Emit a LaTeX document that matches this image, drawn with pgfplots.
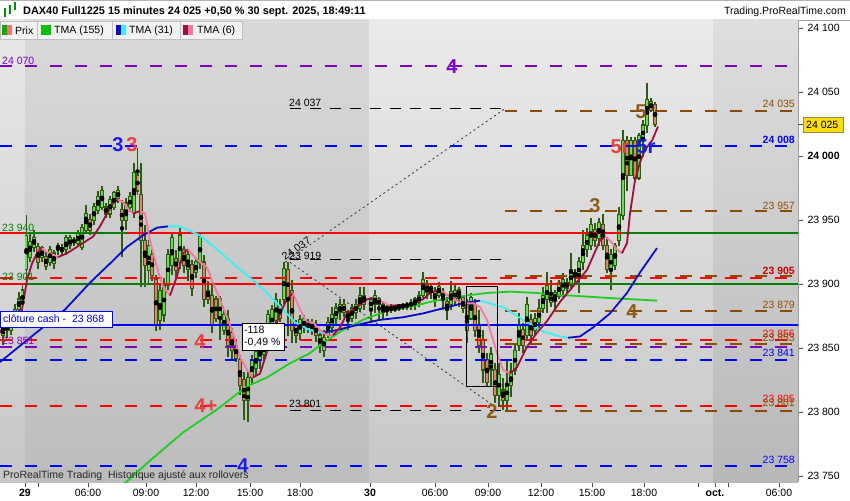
\documentclass[border=0pt]{standalone}
\usepackage{fontspec}
\setmainfont{Liberation Sans}
\usepackage{pgfplots}
\usepackage{pgfplotstable}
\pgfplotsset{compat=1.18}

\definecolor{lvpurple}{RGB}{128,0,192}
\definecolor{lvbrown}{RGB}{140,76,0}
\definecolor{lvblue}{RGB}{0,0,255}
\definecolor{lvred}{RGB}{255,0,0}
\definecolor{lvgreen}{RGB}{0,128,0}
\definecolor{wick}{RGB}{45,90,15}
\definecolor{upfill}{RGB}{105,220,95}
\definecolor{dnfill}{RGB}{235,125,115}
\definecolor{tmagreen}{RGB}{30,205,30}
\definecolor{tmablue}{RGB}{10,10,200}
\definecolor{tmacyan}{RGB}{60,240,240}
\definecolor{tmadark}{RGB}{155,15,60}
\definecolor{tmapink}{RGB}{250,120,160}
\definecolor{annred}{RGB}{232,64,64}
\definecolor{annbrown}{RGB}{140,90,20}
\definecolor{annblue}{RGB}{25,25,235}

\newcommand{\fs}{\fontsize{10.5}{12}\selectfont}
\newcommand{\fbig}{\fontsize{20}{22}\selectfont\bfseries}

% x = bar position (px of the 850 px chart), o h l c = prices
\pgfplotstableread{
x o h l c
3 23860 23873 23852 23868
7 23868 23873 23858 23864
11 23864 23878 23860 23873
15 23873 23884 23870 23880
19 23880 23894 23876 23888
22.5 23884 23899 23872 23895
26.5 23912 23954 23899 23938
30 23921 23940 23917 23933
34 23929 23942 23925 23936
38 23929 23932 23912 23917
42 23921 23930 23917 23928
46 23921 23925 23911 23914
50 23917 23930 23914 23927
54 23916 23927 23912 23924
58 23927 23932 23923 23930
62 23928 23931 23923 23926
66 23927 23938 23923 23936
70 23930 23938 23927 23936
74 23933 23937 23930 23934
78 23932 23942 23929 23940
82 23929 23947 23927 23944
86 23942 23962 23940 23955
90 23950 23955 23938 23942
94 23950 23963 23946 23960
98 23958 23973 23955 23968
102 23960 23977 23958 23973
106 23960 23963 23952 23955
110 23955 23969 23952 23966
114 23960 23973 23958 23971
118 23967 23977 23963 23973
122 23958 23966 23921 23950
126 23950 23967 23942 23963
130 23960 23972 23956 23968
134 23955 23995 23952 23987
137.5 23985 24006 23970 23973
141 23970 23995 23898 23934
145 23934 23946 23898 23915
148.5 23911 23934 23899 23930
152 23923 23928 23902 23907
156 23903 23907 23863 23868
160 23872 23899 23864 23895
164 23876 23905 23870 23899
168 23899 23927 23895 23923
172 23915 23941 23907 23936
176 23920 23927 23905 23911
180 23917 23944 23912 23938
184 23927 23930 23909 23915
188 23912 23927 23902 23923
192 23915 23919 23891 23897
196 23909 23920 23905 23917
200 23917 23941 23912 23937
204 23917 23923 23882 23888
208 23895 23902 23884 23888
212 23891 23899 23862 23868
216 23888 23891 23870 23873
220 23873 23891 23856 23888
224 23864 23880 23860 23876
228 23873 23880 23843 23852
232 23862 23866 23841 23848
236 23852 23856 23839 23842
240 23841 23845 23813 23821
244 23825 23831 23794 23809
248 23809 23831 23792 23827
252 23827 23845 23821 23841
256 23834 23850 23829 23847
260 23841 23856 23834 23852
264 23845 23858 23839 23854
268 23852 23880 23848 23876
272 23864 23884 23860 23880
276 23872 23893 23866 23888
280 23884 23888 23870 23873
284 23888 23917 23884 23912
288 23911 23917 23859 23888
292 23895 23903 23854 23864
296 23868 23872 23854 23860
300 23862 23876 23856 23872
304 23866 23876 23862 23873
308 23870 23873 23862 23866
312 23864 23873 23860 23870
316 23868 23872 23855 23860
320 23852 23864 23846 23860
324 23848 23864 23843 23858
328 23860 23874 23858 23870
332 23866 23882 23862 23876
336 23873 23885 23868 23881
340 23878 23888 23872 23884
344 23884 23888 23874 23878
348 23873 23880 23864 23878
352 23873 23884 23870 23881
356 23878 23888 23873 23884
360 23881 23898 23878 23891
364 23891 23898 23880 23884
371 23881 23890 23870 23888
375 23884 23895 23877 23891
379 23888 23890 23872 23884
383 23884 23885 23873 23880
387 23880 23884 23875 23882
391 23880 23884 23877 23882
395 23880 23884 23878 23883
399 23881 23884 23879 23884
403 23882 23885 23880 23884
407 23883 23886 23880 23884
411 23883 23888 23880 23885
415 23884 23890 23880 23888
419 23886 23895 23882 23891
423 23891 23909 23889 23903
427 23899 23903 23888 23894
431 23895 23901 23888 23898
435 23894 23898 23882 23888
439 23891 23902 23889 23898
443 23894 23897 23880 23888
447 23886 23890 23872 23880
451 23884 23902 23880 23894
455 23895 23899 23884 23888
459 23891 23898 23882 23895
463 23889 23891 23877 23881
467 23884 23888 23854 23864
471 23873 23893 23872 23889
475 23884 23888 23859 23864
479 23868 23880 23846 23852
483 23856 23864 23823 23833
487 23841 23846 23820 23823
491 23833 23851 23820 23845
495 23833 23838 23807 23813
499 23813 23838 23804 23829
503 23817 23827 23802 23809
507 23809 23841 23802 23821
511 23821 23838 23812 23831
515 23833 23852 23829 23848
519 23852 23877 23848 23868
523 23864 23870 23846 23852
527 23860 23890 23856 23884
531 23872 23877 23854 23860
535 23864 23877 23859 23873
539 23870 23888 23864 23881
543 23881 23898 23877 23891
547 23888 23909 23877 23899
551 23891 23903 23882 23886
555 23888 23895 23880 23893
559 23891 23903 23888 23901
563 23895 23909 23890 23903
567 23901 23905 23893 23897
571 23899 23924 23895 23911
575 23907 23912 23901 23909
579 23905 23921 23893 23917
583 23917 23942 23911 23930
587 23927 23944 23921 23938
591 23930 23952 23927 23946
595 23942 23948 23929 23934
599 23936 23952 23930 23948
603 23946 23955 23927 23930
607 23930 23937 23909 23912
611 23911 23927 23895 23923
615 23915 23932 23911 23930
619 23934 23960 23930 23954
623 23954 24020 23950 24012
627 24012 24016 23973 23985
631 23985 24015 23984 24012
635 24012 24015 23981 23983
639 23983 24018 23981 24016
643 24012 24028 23999 24024
647 24024 24057 24018 24044
651 24042 24045 24034 24036
655 24040 24042 24023 24025
}\candles

\tikzset{
  lvl/.style={line width=2pt, dash pattern=on 12pt off 13pt},
  lvs/.style={line width=2pt},
  lvk/.style={line width=0.9pt, black, dash pattern=on 11pt off 9pt},
  ma/.style={line width=1.8pt},
}

\begin{document}
\begin{tikzpicture}
\useasboundingbox (0,0) rectangle (850pt,-500pt);
\fill[white] (0,0) rectangle (850pt,-500pt);
\draw[black!30] (0,-0.4pt) -- (850pt,-0.4pt);
\draw[black!35] (0,-20pt) -- (850pt,-20pt);

\begin{axis}[
  at={(0pt,-20pt)}, anchor=north west,
  width=798pt, height=462pt, scale only axis,
  xmin=0, xmax=798, ymin=23745.3, ymax=24106.25,
  scaled ticks=false,
  axis x line*=bottom, axis y line*=right,
  axis line style={draw=black!40, line width=0.8pt},
  xtick={25,88,146,196,250,300,370,435,488,541,592,644,715,779},
  xticklabels={\textbf{29},06:00,09:00,12:00,15:00,18:00,\textbf{30},06:00,09:00,12:00,15:00,18:00,\textbf{oct.},06:00},
  extra x ticks={38,698,728}, extra x tick labels={},
  ytick={23750,23800,23850,23900,23950,24000,24050,24100},
  yticklabels={23 750,23 800,23 850,23 900,23 950,\textbf{24 000},24 050,24 100},
  tick align=outside, major tick length=5pt,
  tick style={black!70, line width=0.6pt},
  ticklabel style={font=\fs, text=black},
  xticklabel style={yshift=1pt},
  yticklabel style={xshift=1pt},
]
% background bands
\shade[top color=black!9, bottom color=black!22] (axis cs:0,24106.25) rectangle (axis cs:25,23745.3);
\shade[top color=black!15, bottom color=black!26] (axis cs:25,24106.25) rectangle (axis cs:369,23745.3);
\shade[top color=black!8, bottom color=black!22] (axis cs:369,24106.25) rectangle (axis cs:713,23745.3);
\shade[top color=black!13, bottom color=black!28] (axis cs:713,24106.25) rectangle (axis cs:798,23745.3);

% candles: wicks, body outline, body fill
\addplot[only marks, mark=none, error bars/.cd, y dir=both, y explicit, error mark=none,
  error bar style={line width=1.1pt, draw=wick}]
  table[x=x, y expr={(\thisrow{h}+\thisrow{l})/2}, y error expr={(\thisrow{h}-\thisrow{l})/2}] {\candles};
\addplot[only marks, mark=none, error bars/.cd, y dir=both, y explicit, error mark=none,
  error bar style={line width=3.8pt, draw=wick}]
  table[x=x, y expr={(\thisrow{o}+\thisrow{c})/2}, y error expr={abs(\thisrow{o}-\thisrow{c})/2+0.7}] {\candles};
\addplot[only marks, mark=none, unbounded coords=discard, error bars/.cd, y dir=both, y explicit, error mark=none,
  error bar style={line width=2.0pt, draw=upfill}]
  table[x=x, y expr={\thisrow{c}>=\thisrow{o} ? (\thisrow{o}+\thisrow{c})/2 : nan}, y error expr={max(abs(\thisrow{o}-\thisrow{c})/2-0.2,0)}] {\candles};
\addplot[only marks, mark=none, unbounded coords=discard, error bars/.cd, y dir=both, y explicit, error mark=none,
  error bar style={line width=2.0pt, draw=dnfill}]
  table[x=x, y expr={\thisrow{c}<\thisrow{o} ? (\thisrow{o}+\thisrow{c})/2 : nan}, y error expr={max(abs(\thisrow{o}-\thisrow{c})/2-0.2,0)}] {\candles};

% levels
\addplot[lvl, lvpurple] coordinates {(0,24070) (798,24070)};
\addplot[lvk] coordinates {(290,24037) (505,24037)};
\addplot[lvl, lvbrown] coordinates {(505,24035) (798,24035)};
\addplot[lvl, lvblue] coordinates {(0,24008) (798,24008)};
\addplot[lvl, lvbrown] coordinates {(505,23957) (798,23957)};
\addplot[lvs, lvred] coordinates {(0,23940) (622,23940)};
\addplot[lvs, lvgreen] coordinates {(25,23940) (127,23940)};
\addplot[lvs, lvgreen] coordinates {(622,23940) (798,23940)};
\addplot[lvk] coordinates {(290,23919) (505,23919)};
\addplot[lvl, lvbrown] coordinates {(505,23906) (798,23906)};
\addplot[lvl, lvred] coordinates {(0,23905) (798,23905)};
\addplot[lvs, lvred] coordinates {(0,23900) (570,23900)};
\addplot[lvs, lvgreen] coordinates {(25,23900) (153,23900)};
\addplot[lvs, lvgreen] coordinates {(570,23900) (798,23900)};
\addplot[lvl, lvbrown] coordinates {(505,23879) (798,23879)};
\addplot[lvs, lvblue] coordinates {(0,23868) (798,23868)};
\addplot[lvl, lvred] coordinates {(0,23856) (798,23856)};
\addplot[lvl, lvbrown] coordinates {(505,23853) (798,23853)};
\addplot[lvl, lvpurple] coordinates {(0,23851) (798,23851)};
\addplot[lvl, lvblue] coordinates {(0,23841) (798,23841)};
\addplot[lvl, lvred] coordinates {(0,23805) (798,23805)};
\addplot[lvk] coordinates {(290,23801) (505,23801)};
\addplot[lvl, lvbrown] coordinates {(505,23801) (798,23801)};
\addplot[lvl, lvblue] coordinates {(0,23758) (798,23758)};

% TMA(155)
\addplot[ma, tmagreen] coordinates {(120,23741) (150,23762) (183,23784) (217,23802) (247,23820) (267,23827) (290,23838) (310,23846) (323,23854) (343,23864) (363,23872) (390,23880) (410,23882) (430,23886) (450,23889) (467,23891) (487,23893) (510,23894) (537,23893) (557,23891) (570,23891) (610,23889) (657,23887)};
% TMA(31)
\addplot[ma, tmablue] coordinates {(0,23839) (30,23858) (65,23880) (90,23901) (110,23916) (127,23929) (143,23938) (157,23944) (168,23945)};
\addplot[ma, tmacyan] coordinates {(168,23945) (180,23945) (200,23938) (217,23927) (233,23916) (253,23903) (267,23893) (283,23880) (295,23870) (310,23864) (323,23862)};
\addplot[ma, tmablue] coordinates {(323,23862) (337,23864) (357,23868) (380,23872) (403,23874) (423,23877) (443,23881) (463,23885) (480,23887)};
\addplot[ma, tmacyan] coordinates {(480,23887) (503,23882) (523,23872) (543,23863) (560,23859) (568,23858)};
\addplot[ma, tmablue] coordinates {(568,23858) (580,23859) (593,23866) (610,23877) (627,23893) (640,23909) (657,23928)};
% TMA(6)
\addplot[ma, tmadark] coordinates {(0,23862) (7,23872) (22,23880) (27,23903) (32,23916) (37,23924) (42,23928)};
\addplot[ma, tmapink] coordinates {(42,23928) (47,23925) (58,23921)};
\addplot[ma, tmadark] coordinates {(58,23921) (67,23924) (83,23932) (93,23937) (100,23945) (107,23955) (113,23963) (118,23966)};
\addplot[ma, tmapink] coordinates {(118,23966) (123,23964) (128,23959) (133,23955)};
\addplot[ma, tmadark] coordinates {(133,23955) (140,23957)};
\addplot[ma, tmapink] coordinates {(140,23957) (145,23955) (150,23934) (157,23913) (163,23898) (170,23891)};
\addplot[ma, tmadark] coordinates {(170,23891) (177,23906) (183,23924) (188,23927)};
\addplot[ma, tmapink] coordinates {(188,23927) (197,23919) (207,23913) (213,23901) (220,23888) (227,23874) (233,23862) (240,23843) (247,23833) (253,23827)};
\addplot[ma, tmadark] coordinates {(253,23827) (260,23830) (270,23854) (280,23877) (287,23888) (293,23893)};
\addplot[ma, tmapink] coordinates {(293,23893) (300,23880) (307,23870) (313,23870) (320,23864) (327,23860) (333,23860)};
\addplot[ma, tmadark] coordinates {(333,23860) (340,23866) (347,23877) (357,23882) (367,23888) (373,23889)};
\addplot[ma, tmapink] coordinates {(373,23889) (383,23886) (390,23883)};
\addplot[ma, tmadark] coordinates {(390,23883) (410,23884) (423,23888) (430,23893) (437,23895)};
\addplot[ma, tmapink] coordinates {(437,23895) (443,23894) (453,23888) (463,23885) (473,23885) (480,23882) (487,23872) (497,23846) (503,23833) (510,23830)};
\addplot[ma, tmadark] coordinates {(510,23830) (517,23835) (527,23851) (537,23862) (547,23871) (560,23886) (573,23898) (587,23911) (600,23934) (605,23937)};
\addplot[ma, tmapink] coordinates {(605,23937) (610,23934) (617,23927) (622,23924)};
\addplot[ma, tmadark] coordinates {(622,23924) (627,23932) (630,23955) (635,23981) (640,23995) (645,24005) (652,24012) (658,24023)};

% drawing tools
\draw[black, line width=0.8pt] (axis cs:466,23898) rectangle (axis cs:497,23820);
\draw[black!80, line width=0.8pt, dash pattern=on 2pt off 3pt] (axis cs:285,23917) -- (axis cs:505,24037);
\draw[black!80, line width=0.8pt, dash pattern=on 2pt off 3pt] (axis cs:290,23917) -- (axis cs:497,23803);
\end{axis}

% header
\fill[green!55!black] (4pt,-8pt) rectangle (6pt,-17pt);
\fill[green!55!black] (9pt,-5pt) rectangle (11pt,-14pt);
\fill[green!55!black] (14pt,-2pt) rectangle (16pt,-10pt);
\node[anchor=west, font=\fontsize{10.9}{12}\selectfont\bfseries, inner sep=0pt] at (23pt,-12pt) {DAX40 Full1225 15 minutes 24 025 +0,50 \% 30 sept. 2025, 18:49:11};
\node[anchor=east, font=\fs, inner sep=0pt] at (846pt,-12pt) {Trading.ProRealTime.com};

% legend boxes
\foreach \a/\b in {0/37,37/112,112/180,180/242}
  \draw[black!25, fill=black!5] (\a pt,-21pt) rectangle (\b pt,-39pt);
\fill[green!70!black] (2pt,-25pt) rectangle (7pt,-35pt);
\fill[red!55] (7pt,-25pt) rectangle (12pt,-35pt);
\node[anchor=west, font=\fs, inner sep=0pt] at (15pt,-30.5pt) {Prix};
\fill[green!75!black] (41pt,-25pt) rectangle (51pt,-35pt);
\node[anchor=west, font=\fs, inner sep=0pt] at (54pt,-30.5pt) {TMA (155)};
\fill[tmablue] (116pt,-25pt) rectangle (121pt,-35pt);
\fill[tmacyan] (121pt,-25pt) rectangle (126pt,-35pt);
\node[anchor=west, font=\fs, inner sep=0pt] at (129pt,-30.5pt) {TMA (31)};
\fill[tmadark] (183pt,-25pt) rectangle (188pt,-35pt);
\fill[tmapink] (188pt,-25pt) rectangle (193pt,-35pt);
\node[anchor=west, font=\fs, inner sep=0pt] at (197pt,-30.5pt) {TMA (6)};

% right price tag
\draw[black!50!yellow, fill=yellow!80!orange] (803pt,-117pt) rectangle (843pt,-132pt);
\node[anchor=west, font=\fs, inner sep=0pt] at (806pt,-124.5pt) {24 025};
\draw[black!70, line width=0.6pt] (798pt,-124.5pt) -- (803pt,-124.5pt);

% level labels right
\begin{scope}[every node/.style={anchor=east, font=\fs, inner sep=0pt}]
\node[text=lvbrown] at (795pt,-104pt) {24 035};
\node[text=lvblue, font=\fs\bfseries] at (795pt,-140pt) {24 008};
\node[text=lvbrown] at (795pt,-206pt) {23 957};
\node[text=red!80!black, font=\fs\bfseries] at (795pt,-271pt) {23 905};
\node[text=lvbrown] at (795pt,-305pt) {23 879};
\node[text=lvred] at (795pt,-334pt) {23 856};
\node[text=lvbrown] at (795pt,-338pt) {23 853};
\node[text=lvblue] at (795pt,-353pt) {23 841};
\node[text=lvred] at (795pt,-399pt) {23 805};
\node[text=lvbrown] at (795pt,-403pt) {23 801};
\node[text=lvblue] at (795pt,-460pt) {23 758};
\end{scope}
% level labels left
\begin{scope}[every node/.style={anchor=west, font=\fs, inner sep=0pt}]
\node[text=lvpurple] at (2pt,-61pt) {24 070};
\node[text=lvgreen] at (2pt,-228pt) {23 940};
\node[text=lvgreen] at (2pt,-277pt) {23 901};
\node[text=lvpurple] at (2pt,-341pt) {23 851};
\node[text=black] at (289pt,-103pt) {24 037};
\node[text=black] at (289pt,-256pt) {23 919};
\node[text=black] at (289pt,-404pt) {23 801};
\node[text=black, rotate=35] at (283pt,-258pt) {24 037};
\end{scope}

% wave counts
\begin{scope}[every node/.style={font=\fbig, inner sep=0pt}]
\node[text=lvpurple] at (452pt,-67pt) {4};
\node[text=annblue] at (118pt,-145pt) {3};
\node[text=annred] at (132pt,-145pt) {3};
\node[text=annbrown] at (641pt,-112pt) {5};
\node[text=annred] at (620pt,-147pt) {5r};
\node[text=annblue] at (646pt,-147pt) {5r};
\node[text=annbrown] at (595pt,-206pt) {3};
\node[text=annbrown] at (632pt,-312pt) {4};
\node[text=annred] at (200pt,-342pt) {4};
\node[text=annred] at (206pt,-406pt) {4+};
\node[text=annbrown] at (492pt,-412pt) {2};
\node[text=annblue] at (243pt,-466pt) {4};
\end{scope}

% boxes
\draw[lvblue, fill=white, line width=1pt] (0.5pt,-311pt) rectangle (112pt,-327pt);
\node[anchor=west, font=\fs, text=lvblue, inner sep=0pt] at (3pt,-319pt) {clôture cash -\ \ 23 868};
\draw[black, fill=white, line width=0.8pt] (242pt,-323pt) rectangle (284pt,-350pt);
\node[anchor=west, font=\fs, inner sep=0pt] at (244pt,-330pt) {-118};
\node[anchor=west, font=\fs, inner sep=0pt] at (244pt,-343pt) {-0,49 \%};
\node[anchor=west, font=\fs, text=black!85, inner sep=0pt] at (3pt,-476pt) {ProRealTime Trading\ \ Historique ajusté aux rollovers};
\end{tikzpicture}
\end{document}
